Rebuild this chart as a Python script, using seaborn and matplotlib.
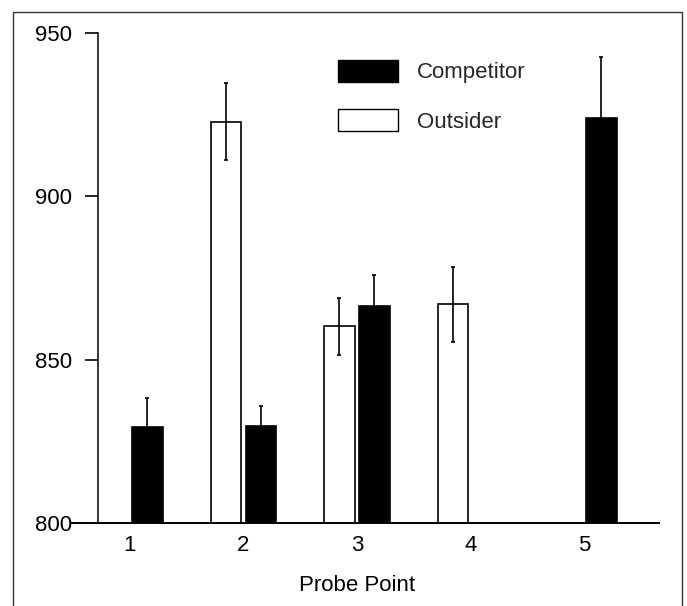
import numpy as np
import pandas as pd
import matplotlib
matplotlib.use("Agg")
import matplotlib.pyplot as plt
from matplotlib.patches import Patch, Rectangle
import seaborn as sns

# values
probes = ['1', '2', '3', '4', '5']
competitor_rt = [829.4, 829.5, 866.3, np.nan, 924.1]
competitor_err = [8.7, 6.2, 9.6, np.nan, 18.7]
outsider_rt = [np.nan, 922.9, 860.2, 866.9, np.nan]
outsider_err = [np.nan, 11.8, 8.8, 11.6, np.nan]

groups = ['Outsider', 'Competitor']
colors = {'Outsider': 'white', 'Competitor': 'black'}

# long table for seaborn
df = pd.DataFrame({
    'probe': probes * 2,
    'rt': outsider_rt + competitor_rt,
    'err': outsider_err + competitor_err,
    'group': ['Outsider'] * len(probes) + ['Competitor'] * len(probes),
}).dropna()

sns.set_style('ticks')
plt.rcParams['font.family'] = ['Liberation Sans', 'DejaVu Sans']

fig = plt.figure(figsize=(6.87, 6.06), dpi=100)
ax = fig.add_axes([72 / 687, 1 - 522.7 / 606, 587 / 687, 489.4 / 606])

sns.barplot(data=df, x='probe', y='rt', hue='group', order=probes,
            hue_order=groups, palette=colors, edgecolor='black',
            linewidth=1.2, width=0.62, gap=0.134, errorbar=None,
            legend=False, ax=ax)

# error bars placed on the bars seaborn drew
err_lookup = {(r.group, r.probe): r.err for r in df.itertuples()}
bar_patches = [p for p in ax.patches]
for bar in bar_patches:
    xc = bar.get_x() + bar.get_width() / 2
    grp = 'Competitor' if bar.get_facecolor()[0] < 0.5 else 'Outsider'
    probe = probes[int(round(xc))]
    ax.errorbar(xc, bar.get_height(), yerr=err_lookup[(grp, probe)],
                fmt='none', ecolor='black', elinewidth=1.2,
                capsize=1.6, capthick=1.2, zorder=5)

ax.set_ylim(800, 950)
ax.set_yticks([800, 850, 900, 950])
ax.set_xlim(-0.51, 4.662)

for s in ['top', 'right']:
    ax.spines[s].set_visible(False)
ax.spines['left'].set_position(('axes', 26 / 587))
ax.spines['left'].set_linewidth(1.1)
ax.spines['bottom'].set_linewidth(1.4)
ax.spines['left'].set_color('black')
ax.spines['bottom'].set_color('black')

ax.tick_params(axis='y', direction='out', length=9.5, width=1.2,
               pad=9, labelsize=16, colors='black')
ax.tick_params(axis='x', length=0, pad=8.6, labelsize=16, colors='black')

ax.set_ylabel('')
ax.set_xlabel('Probe Point', fontsize=16, color='black')
ax.xaxis.set_label_coords(285 / 587, -52 / 489.4)

handles = [Patch(facecolor='black', edgecolor='black', label='Competitor'),
           Patch(facecolor='white', edgecolor='black', linewidth=1.0,
                 label='Outsider')]
ax.legend(handles=handles, loc='upper left', bbox_to_anchor=(0.453, 0.945),
          frameon=False, fontsize=16, handlelength=2.7, handleheight=1.1,
          labelspacing=1.17, handletextpad=0.86, borderpad=0,
          borderaxespad=0)

# outer frame of the figure
fig.add_artist(Rectangle((13 / 687, -0.05), (682 - 13) / 687, 1.04 - 6 / 606,
                         transform=fig.transFigure, fill=False,
                         edgecolor='#333333', linewidth=1.0, clip_on=False))

fig.savefig('out.png', dpi=100)
